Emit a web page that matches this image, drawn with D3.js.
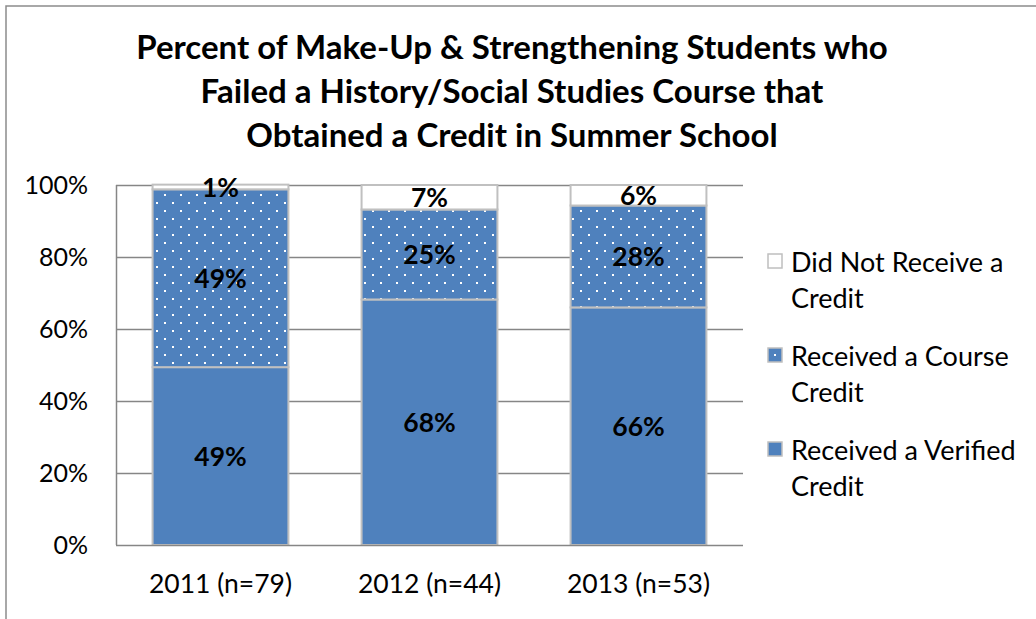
<!DOCTYPE html>
<html><head><meta charset="utf-8">
<script src="https://cdn.jsdelivr.net/npm/d3@7"></script>
<style>
html,body{margin:0;padding:0;background:#fff;}
svg{display:block;font-family:Lato, "Open Sans", sans-serif;}
</style></head>
<body>
<svg id="chart" width="1036" height="619"></svg>
<script>
const categories = ["2011 (n=79)", "2012 (n=44)", "2013 (n=53)"];
const seriesNames = ["Received a Verified Credit", "Received a Course Credit", "Did Not Receive a Credit"];
const verified = [49.4, 68.2, 66.0];
const course = [49.4, 25.0, 28.3];
const notReceived = [1.3, 6.8, 5.7];
const yTicks = [0, 20, 40, 60, 80, 100];
const titleLines = ["Percent of Make-Up & Strengthening Students who", "Failed a History/Social Studies Course that", "Obtained a Credit in Summer School"];
const legendLines = [["Did Not Receive a", "Credit"], ["Received a Course", "Credit"], ["Received a Verified", "Credit"]];

const svg = d3.select("#chart");
const W = 1036, H = 619;
const m = {left:116, right:743, top:185, bottom:545};

// outer border (top and left visible)
svg.append("path").attr("d", `M6,${H+5} L6,6 L${W+5},6`).attr("fill","none").attr("stroke","#8c8c8c").attr("stroke-width",1.5);

// pattern
const defs = svg.append("defs");
const pat = defs.append("pattern").attr("id","dots").attr("patternUnits","userSpaceOnUse")
  .attr("width",16).attr("height",16).attr("x",0).attr("y",2);
pat.append("rect").attr("width",16).attr("height",16).attr("fill","#4f81bd");
pat.append("rect").attr("x",4).attr("y",0).attr("width",2).attr("height",2).attr("fill","#fff");
pat.append("rect").attr("x",12).attr("y",8).attr("width",2).attr("height",2).attr("fill","#fff");

// title
svg.append("text").attr("x",512).attr("y",59).attr("text-anchor","middle")
  .attr("font-weight","bold").attr("font-size",33).attr("fill","#000")
  .selectAll("tspan").data(titleLines).join("tspan")
  .attr("x",512).attr("dy",(d,i)=> i===0?0:44).text(d=>d);

const x = d3.scaleBand().domain(categories).range([m.left, m.right]).paddingInner(0.35).paddingOuter(0.175);
const y = d3.scaleLinear().domain([0,100]).range([m.bottom, m.top]);

// gridlines
svg.append("g").selectAll("line").data(yTicks.filter(t=>t>0)).join("line")
  .attr("x1",m.left).attr("x2",m.right).attr("y1",d=>Math.round(y(d))+0.5).attr("y2",d=>Math.round(y(d))+0.5)
  .attr("stroke","#868686").attr("stroke-width",1.5);

// y axis
const yAxis = d3.axisLeft(y).tickValues(yTicks).tickFormat(d=>d+"%").tickSize(0).tickPadding(28);
const gy = svg.append("g").attr("transform",`translate(${m.left},0)`).call(yAxis);
gy.select(".domain").remove();
gy.selectAll("text").attr("font-size",25).attr("fill","#000").attr("font-family","Lato, sans-serif");
svg.append("line").attr("x1",m.left+0.5).attr("x2",m.left+0.5).attr("y1",m.top).attr("y2",m.bottom).attr("stroke","#868686").attr("stroke-width",1.5);

// stacked data
const rows = categories.map((c,i)=>({cat:c, v0:verified[i], v1:course[i], v2:notReceived[i]}));
const stack = d3.stack().keys(["v0","v1","v2"])(rows);
const fills = ["#4f81bd","url(#dots)","#ffffff"];

stack.forEach((layer, li)=>{
  svg.append("g").selectAll("rect").data(layer).join("rect")
    .attr("x",d=>x(d.data.cat)).attr("width",x.bandwidth())
    .attr("y",d=>y(d[1])).attr("height",d=>y(d[0])-y(d[1]))
    .attr("fill",fills[li]).attr("stroke","#c0c0c0").attr("stroke-width",2);
});

// x axis
const xAxis = d3.axisBottom(x).tickSize(0).tickPadding(29);
const gx = svg.append("g").attr("transform",`translate(0,${m.bottom})`).call(xAxis);
gx.select(".domain").remove();
gx.selectAll("text").attr("font-size",26.5).attr("fill","#000").attr("font-family","Lato, sans-serif");
svg.append("line").attr("x1",m.left).attr("x2",m.right).attr("y1",m.bottom+0.5).attr("y2",m.bottom+0.5).attr("stroke","#868686").attr("stroke-width",1.5);

// data labels
stack.forEach((layer)=>{
  svg.append("g").selectAll("text").data(layer).join("text")
    .attr("x",d=>x(d.data.cat)+x.bandwidth()/2)
    .attr("y",d=>y((d[0]+d[1])/2))
    .attr("text-anchor","middle").attr("dominant-baseline","central")
    .attr("font-weight","bold").attr("font-size",26.5).attr("fill","#000")
    .text(d=>Math.round(d[1]-d[0])+"%");
});

// legend
const legFills = ["#ffffff","url(#dots)","#4f81bd"];
const legY = [261, 355, 449];
const lg = svg.append("g");
legendLines.forEach((lines,i)=>{
  lg.append("rect").attr("x",768).attr("y",legY[i]-7).attr("width",14).attr("height",14)
    .attr("fill",i===1?"#4f81bd":legFills[i]).attr("stroke","#bfbfbf").attr("stroke-width",1.5);
  if(i===1) lg.append("rect").attr("x",774).attr("y",legY[i]-1).attr("width",2).attr("height",2).attr("fill","#fff");
  const t = lg.append("text").attr("x",791).attr("y",legY[i]).attr("font-size",27).attr("fill","#000").attr("dominant-baseline","central");
  lines.forEach((l,j)=> t.append("tspan").attr("x",791).attr("dy", j===0?0:36).text(l));
});
</script>
</body></html>
